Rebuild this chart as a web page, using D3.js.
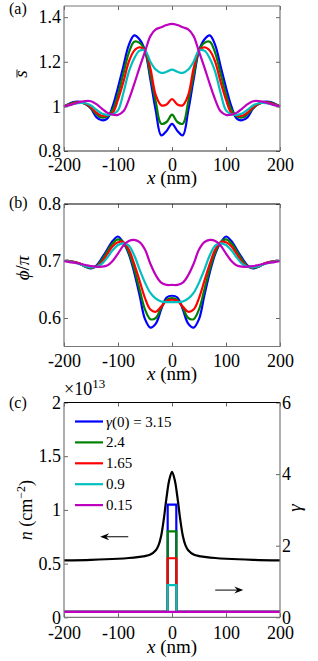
<!DOCTYPE html>
<html><head><meta charset="utf-8">
<script src="https://cdn.jsdelivr.net/npm/d3@7"></script>
<style>
body{margin:0;background:#fff}
svg{display:block}
svg text{font-family:"Liberation Serif","DejaVu Serif","Noto Serif",serif !important;fill:#000}
</style>
</head><body>
<svg id="c" width="318" height="661"></svg>
<script>
// ---------- DATA ----------
const seriesNames = ["3.15", "2.4", "1.65", "0.9", "0.15"];
const seriesColors = ["#0000ff", "#008000", "#ff0000", "#00bfbf", "#bf00bf"];
const xTicks = [-200, -100, 0, 100, 200];

const xGrid = [-200,-190,-180,-170,-160,-150,-140,-130,-120,-110,-100,-90,-80,-70,-60,-50,-40,-30,-20,-10,0,
               10,20,30,40,50,60,70,80,90,100,110,120,130,140,150,160,170,180,190,200];

// panel (a): s-bar
const sBlue    = [1.000,1.012,1.020,1.020,1.010,0.990,0.952,0.938,0.945,1.000,1.085,1.180,1.275,1.318,1.300,1.250,1.120,0.980,0.870,0.890,0.922,0.890,0.870,0.980,1.120,1.250,1.300,1.318,1.275,1.180,1.085,1.000,0.945,0.938,0.952,0.990,1.010,1.020,1.020,1.012,1.000];
const sGreen   = [1.000,1.010,1.018,1.019,1.010,0.992,0.965,0.950,0.955,0.985,1.055,1.148,1.240,1.290,1.285,1.250,1.140,1.020,0.922,0.930,0.963,0.930,0.922,1.020,1.140,1.250,1.285,1.290,1.240,1.148,1.055,0.985,0.955,0.950,0.965,0.992,1.010,1.019,1.018,1.010,1.000];
const sRed     = [1.000,1.008,1.016,1.019,1.012,0.996,0.972,0.958,0.960,0.970,1.030,1.110,1.200,1.250,1.265,1.250,1.170,1.050,1.005,1.008,1.033,1.008,1.005,1.050,1.170,1.250,1.265,1.250,1.200,1.110,1.030,0.970,0.960,0.958,0.972,0.996,1.012,1.019,1.016,1.008,1.000];
const sCyan    = [1.000,1.005,1.012,1.016,1.014,1.004,0.985,0.968,0.962,0.965,0.982,1.060,1.155,1.215,1.250,1.250,1.200,1.165,1.150,1.155,1.165,1.155,1.150,1.165,1.200,1.250,1.250,1.215,1.155,1.060,0.982,0.965,0.962,0.968,0.985,1.004,1.014,1.016,1.012,1.005,1.000];
const sMagenta = [1.000,1.005,1.013,1.020,1.024,1.023,1.010,0.990,0.972,0.963,0.962,0.978,1.030,1.100,1.175,1.245,1.315,1.345,1.355,1.365,1.370,1.365,1.355,1.345,1.315,1.245,1.175,1.100,1.030,0.978,0.962,0.963,0.972,0.990,1.010,1.023,1.024,1.020,1.013,1.005,1.000];
const sTicks = [0.8, 1, 1.2, 1.4];

// panel (b): phi/pi
const pBlue    = [0.700,0.700,0.698,0.695,0.690,0.687,0.692,0.705,0.720,0.735,0.743,0.732,0.712,0.680,0.640,0.598,0.583,0.590,0.615,0.636,0.639,0.636,0.615,0.590,0.583,0.598,0.640,0.680,0.712,0.732,0.743,0.735,0.720,0.705,0.692,0.687,0.690,0.695,0.698,0.700,0.700];
const pGreen   = [0.700,0.700,0.698,0.695,0.690,0.688,0.691,0.702,0.717,0.731,0.738,0.733,0.715,0.686,0.650,0.615,0.598,0.600,0.618,0.632,0.635,0.632,0.618,0.600,0.598,0.615,0.650,0.686,0.715,0.733,0.738,0.731,0.717,0.702,0.691,0.688,0.690,0.695,0.698,0.700,0.700];
const pRed     = [0.700,0.700,0.698,0.695,0.691,0.689,0.690,0.698,0.712,0.726,0.733,0.733,0.720,0.695,0.665,0.635,0.615,0.611,0.620,0.630,0.632,0.630,0.620,0.611,0.615,0.635,0.665,0.695,0.720,0.733,0.733,0.726,0.712,0.698,0.690,0.689,0.691,0.695,0.698,0.700,0.700];
const pCyan    = [0.700,0.699,0.697,0.694,0.691,0.689,0.690,0.695,0.706,0.719,0.728,0.731,0.727,0.710,0.685,0.662,0.644,0.634,0.629,0.628,0.628,0.628,0.629,0.634,0.644,0.662,0.685,0.710,0.727,0.731,0.728,0.719,0.706,0.695,0.690,0.689,0.691,0.694,0.697,0.699,0.700];
const pMagenta = [0.700,0.698,0.697,0.695,0.693,0.691,0.690,0.690,0.692,0.700,0.713,0.727,0.735,0.737,0.733,0.720,0.695,0.675,0.662,0.658,0.658,0.658,0.662,0.675,0.695,0.720,0.733,0.737,0.735,0.727,0.713,0.700,0.692,0.690,0.690,0.691,0.693,0.695,0.697,0.698,0.700];
const pTicks = [0.6, 0.7, 0.8];

// panel (c): density n (left axis, units 1e13 cm^-2) and gamma steps (right axis)
const nX   = [-200,-150,-100,-80,-60,-50,-40,-30,-25,-20,-15,-10,-5,0,5,10,15,20,25,30,40,50,60,80,100,150,200];
const nVal = [0.530,0.535,0.545,0.552,0.563,0.570,0.585,0.625,0.670,0.760,0.920,1.120,1.280,1.355,1.280,1.120,0.920,0.760,0.670,0.625,0.585,0.570,0.563,0.552,0.545,0.535,0.530];
const gX   = [-200,-8,-8,8,8,200];
const gBlue    = [0.15,0.15,3.15,3.15,0.15,0.15];
const gGreen   = [0.15,0.15,2.4,2.4,0.15,0.15];
const gRed     = [0.15,0.15,1.65,1.65,0.15,0.15];
const gCyan    = [0.15,0.15,0.9,0.9,0.15,0.15];
const gMagenta = [0.15,0.15,0.15,0.15,0.15,0.15];
const nTicks = [0, 0.5, 1, 1.5, 2];
const gTicks = [0, 2, 4, 6];

// ---------- DRAW ----------
const FONT = '"Liberation Serif","DejaVu Serif","Noto Serif",serif';
const svg = d3.select("#c").attr("font-family", FONT);
const X0 = 64, X1 = 280;
const x = d3.scaleLinear().domain([-200, 200]).range([X0, X1]);
const FS = 18;

function panel(top, bottom, yDomain, yTicks, tickLabBase, opts) {
  const y = d3.scaleLinear().domain(yDomain).range([bottom, top]);
  const g = svg.append("g");
  const fmt = d => String(d);
  const ab = g.append("g").attr("transform", `translate(0,${bottom})`)
    .call(d3.axisBottom(x).tickValues(xTicks).tickSize(-4).tickPadding(tickLabBase - 12.8).tickFormat(fmt));
  const at = g.append("g").attr("transform", `translate(0,${top})`)
    .call(d3.axisTop(x).tickValues(xTicks).tickSize(-4).tickFormat(""));
  const al = g.append("g").attr("transform", `translate(${X0},0)`)
    .call(d3.axisLeft(y).tickValues(yTicks).tickSize(-4).tickPadding(3).tickFormat(fmt));
  let ar;
  if (opts.rightScale) {
    ar = g.append("g").attr("transform", `translate(${X1},0)`)
      .call(d3.axisRight(opts.rightScale).tickValues(opts.rightTicks).tickSize(-4).tickPadding(2).tickFormat(fmt));
  } else {
    ar = g.append("g").attr("transform", `translate(${X1},0)`)
      .call(d3.axisRight(y).tickValues(yTicks).tickSize(-4).tickFormat(""));
  }
  [ab, at, al, ar].forEach(a => {
    a.attr("font-family", FONT).attr("font-size", FS);
    a.select(".domain").remove();
    a.selectAll("line").attr("stroke", "#666");
    a.selectAll("text").attr("font-size", FS).attr("font-family", FONT).attr("fill", "#000");
  });
  return {g, y};
}

function frame(g, top, bottom, topColor, bottomColor) {
  const f = g.append("g").attr("fill", "none").attr("stroke-width", 1.2);
  f.append("line").attr("x1", X0).attr("x2", X1).attr("y1", top).attr("y2", top).attr("stroke", topColor);
  f.append("line").attr("x1", X0).attr("x2", X1).attr("y1", bottom).attr("y2", bottom).attr("stroke", bottomColor);
  f.append("line").attr("x1", X0).attr("x2", X0).attr("y1", top).attr("y2", bottom).attr("stroke", "#777");
  f.append("line").attr("x1", X1).attr("x2", X1).attr("y1", top).attr("y2", bottom).attr("stroke", "#777");
}

function xLabel(yBase) {
  const t = svg.append("text").attr("x", 172).attr("y", yBase).attr("text-anchor", "middle").attr("font-size", 19);
  t.append("tspan").attr("font-style", "italic").text("x");
  t.append("tspan").text(" (nm)");
}

function drawLines(g, y, xs, list, curve) {
  const line = d3.line().x((d, i) => x(xs[i])).y(d => y(d)).curve(curve);
  list.forEach((vals, k) => {
    g.append("path").datum(vals).attr("d", line).attr("fill", "none")
      .attr("stroke", seriesColors[k]).attr("stroke-width", 2.2).attr("stroke-linejoin", "round");
  });
}

// ---- panel (a)
const A = panel(6, 151, [0.8, 1.45], sTicks, 20, {});
drawLines(A.g, A.y, xGrid, [sBlue, sGreen, sRed, sCyan, sMagenta], d3.curveCatmullRom.alpha(0.5));
frame(A.g, 6, 151, "#777", "#333");
xLabel(184);
svg.append("text").attr("x", 9).attr("y", 14).attr("font-size", 16).text("(a)");
{
  const gl = svg.append("g").attr("transform", "translate(27,74) rotate(-90)");
  gl.append("text").attr("x", 0).attr("y", 0).attr("text-anchor", "middle").attr("font-size", 19).attr("font-style", "italic").text("s");
  gl.append("line").attr("x1", -3.5).attr("x2", 4.5).attr("y1", -10).attr("y2", -10).attr("stroke", "#000").attr("stroke-width", 0.9);
}

// ---- panel (b)
const B = panel(204, 346.5, [0.55, 0.8], pTicks, 20.5, {});
drawLines(B.g, B.y, xGrid, [pBlue, pGreen, pRed, pCyan, pMagenta], d3.curveCatmullRom.alpha(0.5));
frame(B.g, 204, 346.5, "#000", "#777");
xLabel(380);
svg.append("text").attr("x", 9).attr("y", 208).attr("font-size", 16).text("(b)");
{
  const t = svg.append("text").attr("transform", "translate(29,268) rotate(-90)").attr("text-anchor", "middle").attr("font-size", 19);
  t.append("tspan").attr("font-style", "italic").text("ϕ");
  t.append("tspan").text("/");
  t.append("tspan").attr("font-style", "italic").text("π");
}

// ---- panel (c)
const gScale = d3.scaleLinear().domain([0, 6]).range([617.3, 402.5]);
const C = panel(402.5, 617.3, [0, 2], nTicks, 21.7, {rightScale: gScale, rightTicks: gTicks});
{
  const nl = d3.line().x((d, i) => x(nX[i])).y(d => C.y(d)).curve(d3.curveCatmullRom.alpha(0.5));
  C.g.append("path").datum(nVal).attr("d", nl).attr("fill", "none").attr("stroke", "#000").attr("stroke-width", 2.2);
  const gl = d3.line().x((d, i) => x(gX[i])).y(d => gScale(d));
  [gBlue, gGreen, gRed, gCyan, gMagenta].forEach((vals, k) => {
    C.g.append("path").datum(vals).attr("d", gl).attr("fill", "none")
      .attr("stroke", seriesColors[k]).attr("stroke-width", 2.2);
  });
}
frame(C.g, 402.5, 617.3, "#000", "#777");
xLabel(653);
svg.append("text").attr("x", 9).attr("y", 408).attr("font-size", 16).text("(c)");
{
  const t = svg.append("text").attr("x", 64).attr("y", 395).attr("font-size", 18);
  t.append("tspan").text("×10");
  t.append("tspan").attr("font-size", 13).attr("dy", -7).text("13");
}
{
  const t = svg.append("text").attr("transform", "translate(32,510) rotate(-90)").attr("text-anchor", "middle").attr("font-size", 18);
  t.append("tspan").attr("font-style", "italic").text("n");
  t.append("tspan").text(" (cm");
  t.append("tspan").attr("font-size", 12).attr("dy", -7).text("−2");
  t.append("tspan").attr("dy", 7).text(")");
}
svg.append("text").attr("transform", "translate(301,508) rotate(-90)").attr("text-anchor", "middle")
  .attr("font-size", 19).attr("font-style", "italic").text("γ");

// legend
{
  const lg = svg.append("g");
  seriesNames.forEach((name, k) => {
    const yy = 421.5 + k * 20.9;
    lg.append("line").attr("x1", 75).attr("x2", 103).attr("y1", yy).attr("y2", yy)
      .attr("stroke", seriesColors[k]).attr("stroke-width", 2.2);
    const t = lg.append("text").attr("x", 106).attr("y", yy + 5).attr("font-size", 15);
    if (k === 0) {
      t.append("tspan").attr("font-style", "italic").text("γ");
      t.append("tspan").text("(0) = " + name);
    } else {
      t.text(name);
    }
  });
}

// arrows
function arrow(xa, xb, yy) {
  const dir = Math.sign(xb - xa);
  svg.append("line").attr("x1", xa).attr("x2", xb - dir * 4).attr("y1", yy).attr("y2", yy)
    .attr("stroke", "#000").attr("stroke-width", 1);
  svg.append("path").attr("d", `M${xb},${yy} L${xb - dir * 9},${yy - 3.5} L${xb - dir * 6},${yy} L${xb - dir * 9},${yy + 3.5} Z`)
    .attr("fill", "#000");
}
arrow(x(-81), x(-133), C.y(0.75));
arrow(x(80), x(132), gScale(0.76));
</script>
</body></html>
